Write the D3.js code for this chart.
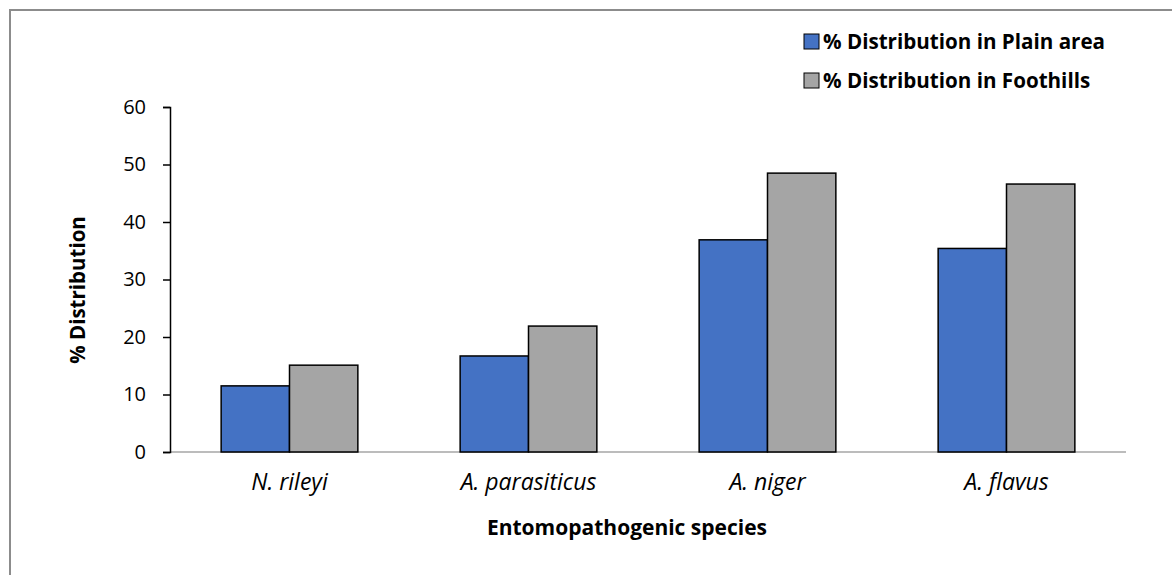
<!DOCTYPE html>
<html>
<head>
<meta charset="utf-8">
<script src="https://cdn.jsdelivr.net/npm/d3@7"></script>
<style>
  html, body { margin: 0; padding: 0; background: #fff; }
  svg { display: block; font-family: "Open Sans", sans-serif; }
</style>
</head>
<body>
<svg id="chart" width="1172" height="575"></svg>
<script>
const categories = ["N. rileyi", "A. parasiticus", "A. niger", "A. flavus"];
const seriesNames = ["% Distribution in Plain area", "% Distribution in Foothills"];
const plainValues = [11.5, 16.7, 36.9, 35.4];
const foothillValues = [15.1, 21.9, 48.5, 46.6];
const yTicks = [0, 10, 20, 30, 40, 50, 60];
const colors = ["#4472C4", "#A5A5A5"];

const svg = d3.select("#chart");
const FONT = "'Open Sans', sans-serif";

// outer frame (chart area border, partially visible)
svg.append("path")
  .attr("d", "M10,575 L10,10 L1172,10")
  .attr("fill", "none")
  .attr("stroke", "#8c8c8c")
  .attr("stroke-width", 2);

const plot = { left: 170, right: 1126, top: 107, bottom: 452 };

const x = d3.scaleBand().domain(categories).range([plot.left, plot.right]).paddingInner(0).paddingOuter(0);
const y = d3.scaleLinear().domain([0, 60]).range([plot.bottom, plot.top]);
const groupWidth = x.bandwidth() * 0.572;
const xs = d3.scaleBand().domain([0, 1]).range([0, groupWidth]);

const data = categories.map((c, i) => ({ cat: c, vals: [plainValues[i], foothillValues[i]] }));

// x axis line
svg.append("line")
  .attr("x1", plot.left).attr("x2", plot.right)
  .attr("y1", y(0)).attr("y2", y(0))
  .attr("stroke", "#a6a6a6").attr("stroke-width", 1.5);

// bars
const g = svg.append("g");
data.forEach(d => {
  d.vals.forEach((v, j) => {
    const bx = x(d.cat) + (x.bandwidth() - groupWidth) / 2 + xs(j);
    g.append("rect")
      .attr("x", bx)
      .attr("y", y(v))
      .attr("width", xs.bandwidth())
      .attr("height", y(0) - y(v))
      .attr("fill", colors[j])
      .attr("stroke", "#000")
      .attr("stroke-width", 1.5);
  });
});

// y axis
const yAxis = d3.axisLeft(y).tickValues(yTicks).tickSize(7).tickPadding(17);
const ya = svg.append("g").attr("transform", `translate(${plot.left},0)`).call(yAxis);
ya.select(".domain").attr("stroke", "#000").attr("stroke-width", 1.5);
ya.selectAll(".tick line").attr("stroke", "#000").attr("stroke-width", 1.5);
ya.selectAll(".tick text")
  .attr("font-family", FONT)
  .attr("font-size", 20)
  .attr("fill", "#000");

// x category labels
const xAxis = d3.axisBottom(x).tickSize(0).tickPadding(0);
const xa = svg.append("g").attr("transform", `translate(0,${plot.bottom})`).call(xAxis);
xa.select(".domain").remove();
xa.selectAll(".tick text")
  .attr("y", 38)
  .attr("dy", 0)
  .attr("font-family", FONT)
  .attr("font-size", 23)
  .attr("font-style", "italic")
  .attr("fill", "#000");

// axis titles
svg.append("text")
  .attr("x", 627).attr("y", 535)
  .attr("text-anchor", "middle")
  .attr("font-size", 21).attr("font-weight", "bold")
  .text("Entomopathogenic species");

svg.append("text")
  .attr("transform", "translate(85,290) rotate(-90)")
  .attr("text-anchor", "middle")
  .attr("font-size", 20.5).attr("font-weight", "bold")
  .text("% Distribution");

// legend
const legend = svg.append("g");
seriesNames.forEach((name, i) => {
  const base = 49 + i * 39;
  legend.append("rect")
    .attr("x", 804).attr("y", base - 15)
    .attr("width", 15).attr("height", 15)
    .attr("fill", colors[i])
    .attr("stroke", "#000").attr("stroke-width", 1);
  legend.append("text")
    .attr("x", 823).attr("y", base)
    .attr("font-size", 20.6).attr("font-weight", "bold")
    .text(name);
});
</script>
</body>
</html>
